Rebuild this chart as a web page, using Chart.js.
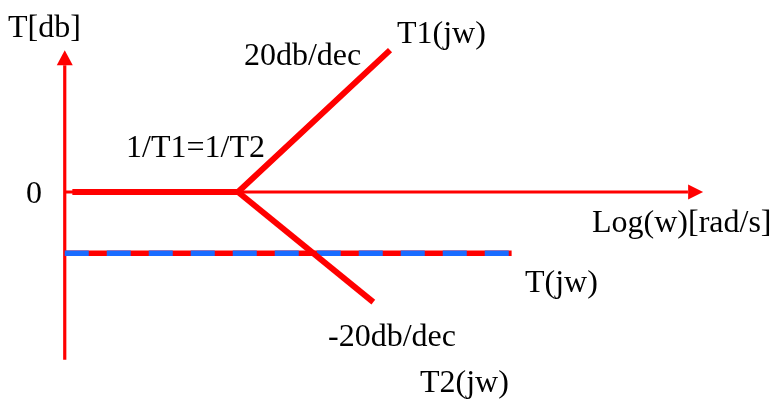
<!DOCTYPE html>
<html>
<head>
<meta charset="utf-8">
<script src="https://cdn.jsdelivr.net/npm/chart.js@4/dist/chart.umd.min.js"></script>
<style>
  html, body { margin: 0; padding: 0; background: #ffffff; }
  #wrap { width: 772px; height: 399px; position: relative; }
</style>
</head>
<body>
<div id="wrap"><canvas id="bode"></canvas></div>
<script>
// Asymptotic Bode magnitude sketch: x = log10(w) in decades relative to the break, y = gain in dB
const t1Log = [-1.09, 0, 1.0];      // T1(jw): flat, then +20 dB/dec
const t1Db  = [0, 0, 19.7];
const t2Log = [0, 0.89];            // T2(jw): -20 dB/dec after the break
const t2Db  = [0, -15.3];
const tLog  = [-1.14, 1.80];        // T(jw): constant overall gain
const tDb   = [-8.5, -8.5];
const axisLog = [-1.14, 3.06];      // extent of the log(w) axis
const axisDb  = [-23.3, 19.7];      // extent of the dB axis

const labelTexts = ['T[db]', 'T1(jw)', '20db/dec', '1/T1=1/T2', '0',
                    'Log(w)[rad/s]', 'T(jw)', '-20db/dec', 'T2(jw)'];

const RED = '#ff0000';
const BLUE = '#1a6cff';

function pts(xs, ys) { return xs.map((x, i) => ({ x: x, y: ys[i] })); }

// where each text sits (left edge, baseline) in axis units
const labelAnchors = [
  [-1.513, 21.5], [1.046, 20.7], [0.039, 17.6], [-0.737, 4.9], [-1.395, -1.5],
  [2.329, -5.55], [1.888, -13.9], [0.592, -21.4], [1.197, -27.8]
];

const arrowsAndText = {
  id: 'arrowsAndText',
  afterDatasetsDraw(chart) {
    const { ctx, scales: { x, y } } = chart;
    ctx.save();
    // arrowheads at the ends of both axes
    ctx.fillStyle = RED;
    const ax = x.getPixelForValue(axisLog[0]);
    const topY = y.getPixelForValue(axisDb[1]);
    ctx.beginPath();
    ctx.moveTo(ax, topY);
    ctx.lineTo(ax - 8, topY + 15);
    ctx.lineTo(ax + 8, topY + 15);
    ctx.closePath();
    ctx.fill();
    const rx = x.getPixelForValue(axisLog[1]);
    const zy = y.getPixelForValue(0);
    ctx.beginPath();
    ctx.moveTo(rx, zy);
    ctx.lineTo(rx - 15, zy - 7.5);
    ctx.lineTo(rx - 15, zy + 7.5);
    ctx.closePath();
    ctx.fill();
    // labels
    ctx.fillStyle = '#000000';
    ctx.font = '32px "Liberation Serif", "Times New Roman", serif';
    ctx.textAlign = 'left';
    ctx.textBaseline = 'alphabetic';
    labelTexts.forEach((t, i) => {
      const a = labelAnchors[i];
      ctx.fillText(t, x.getPixelForValue(a[0]), y.getPixelForValue(a[1]));
    });
    ctx.restore();
  }
};

const lineDefaults = { showLine: true, pointRadius: 0, pointHoverRadius: 0, fill: false, tension: 0 };

new Chart(document.getElementById('bode'), {
  type: 'scatter',
  data: {
    datasets: [
      Object.assign({}, lineDefaults, { label: 'T1(jw)', data: pts(t1Log, t1Db), borderColor: RED, borderWidth: 6, borderJoinStyle: 'miter', order: 0 }),
      Object.assign({}, lineDefaults, { label: 'T2(jw)', data: pts(t2Log, t2Db), borderColor: RED, borderWidth: 6, order: 1 }),
      Object.assign({}, lineDefaults, { label: 'T(jw)', data: pts(tLog, tDb), borderColor: BLUE, borderWidth: 5.5, borderDash: [24, 18], order: 2 }),
      Object.assign({}, lineDefaults, { label: 'T(jw) base', data: pts(tLog, tDb), borderColor: RED, borderWidth: 5.5, order: 3 }),
      Object.assign({}, lineDefaults, { label: 'log(w) axis', data: pts([axisLog[0], axisLog[1] - 0.1], [0, 0]), borderColor: RED, borderWidth: 3, order: 4 }),
      Object.assign({}, lineDefaults, { label: 'dB axis', data: pts([axisLog[0], axisLog[0]], [axisDb[0], axisDb[1] - 2.08]), borderColor: RED, borderWidth: 3.2, order: 5 })
    ]
  },
  options: {
    responsive: true,
    maintainAspectRatio: false,
    animation: false,
    layout: { padding: 0 },
    plugins: { legend: { display: false }, tooltip: { enabled: false } },
    events: [],
    scales: {
      x: { type: 'linear', display: false, min: -1.566, max: 3.513 },
      y: { type: 'linear', display: false, min: -28.75, max: 26.67 }
    }
  },
  plugins: [arrowsAndText]
});
</script>
</body>
</html>
